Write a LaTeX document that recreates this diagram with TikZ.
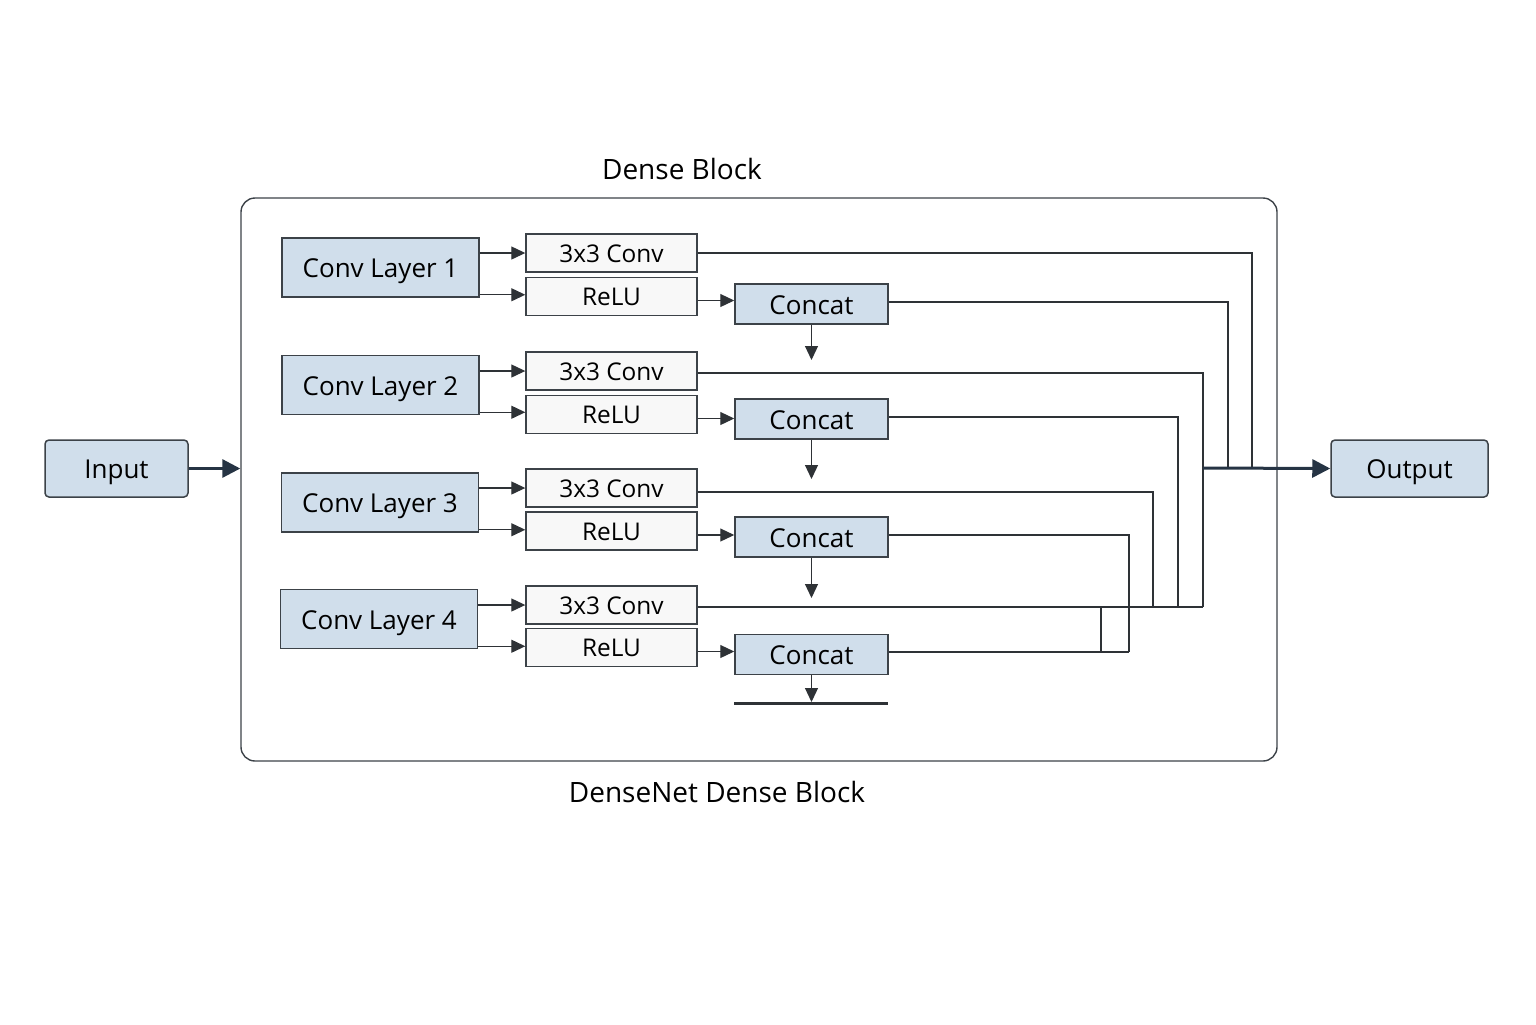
\documentclass[tikz,border=0pt]{standalone}
\usepackage{fontspec}
\setmainfont{Open Sans}
\usetikzlibrary{arrows.meta,calc}
\definecolor{boxblue}{HTML}{D0DEEB}
\definecolor{boxline}{HTML}{3C4248}
\definecolor{boxwhite}{HTML}{F8F8F8}
\definecolor{wire}{HTML}{2E3236}
\definecolor{thickarr}{HTML}{263444}
\begin{document}
\begin{tikzpicture}[x=0.5pt,y=-0.5pt,
  bluebox/.style={draw=boxline, fill=boxblue, line width=0.75pt, inner sep=0pt, text height=1em, text depth=0em, font=\fontsize{13}{15}\selectfont},
  layerbox/.style={bluebox, minimum width=98.5pt, minimum height=29.5pt},
  catbox/.style={bluebox, minimum width=76.5pt, minimum height=20pt},
  iobox/.style={bluebox, rounded corners=2pt, minimum height=28.5pt},
  opbox/.style={draw=boxline, fill=boxwhite, line width=0.7pt, inner sep=0pt, minimum width=85.5pt, minimum height=19pt, text height=0.9em, text depth=0em, font=\fontsize{12.2}{14}\selectfont},
  wireline/.style={draw=wire, line width=0.6pt},
  arr/.style={wireline, -{Triangle[length=7pt,width=6.5pt]}},
  bigarr/.style={draw=thickarr, line width=1.5pt, -{Triangle[length=9pt,width=9pt]}},
  title/.style={font=\fontsize{14}{16}\selectfont, inner sep=0pt}
]
\useasboundingbox (0,0) rectangle (1536,1024);

% dense block frame
\node[draw=boxline, line width=0.7pt, rounded corners=7pt, minimum width=518pt, minimum height=281.5pt, inner sep=0pt] (blk) at (759,479.5) {};
\node[title] (t1) at (682,169) {Dense Block};
\node[title] (t2) at (717,792) {DenseNet Dense Block};

% input / output
\node[iobox, minimum width=71.5pt] (in) at (116.5,468.5) {Input};
\node[iobox, minimum width=78.5pt] (out) at (1409.5,468.5) {Output};

% conv layers
\node[layerbox] (cl1) at (380.5,267.5) {Conv Layer 1};
\node[layerbox] (cl2) at (380.5,385) {Conv Layer 2};
\node[layerbox] (cl3) at (380,502.5) {Conv Layer 3};
\node[layerbox] (cl4) at (379,619) {Conv Layer 4};

% 3x3 conv / relu
\node[opbox] (c1) at (611.5,253) {3x3 Conv};
\node[opbox] (r1) at (611.5,296.5) {ReLU};
\node[opbox] (c2) at (611.5,371) {3x3 Conv};
\node[opbox] (r2) at (611.5,414.5) {ReLU};
\node[opbox] (c3) at (611.5,488) {3x3 Conv};
\node[opbox] (r3) at (611.5,531) {ReLU};
\node[opbox] (c4) at (611.5,605) {3x3 Conv};
\node[opbox] (r4) at (611.5,647.5) {ReLU};

% concat
\node[catbox] (k1) at (811.5,304) {Concat};
\node[catbox] (k2) at (811.5,419) {Concat};
\node[catbox] (k3) at (811.5,537) {Concat};
\node[catbox] (k4) at (811.5,654.5) {Concat};

% layer -> ops
\foreach \i in {1,2,3,4}{
  \draw[arr] (cl\i.east |- c\i.west) -- (c\i.west);
  \draw[arr] ([yshift=1.5pt]cl\i.south east) -- ([yshift=1.5pt]cl\i.south east -| r\i.west);
  \draw[arr] ([yshift=-2pt]r\i.east) -- ([yshift=-2pt]r\i.east -| k\i.west);
}

% concat down arrows
\coordinate (d1) at (811.5,360);
\coordinate (d2) at (811.5,479);
\coordinate (d3) at (811.5,598);
\coordinate (d4) at (811.5,702);
\foreach \i in {1,2,3,4}{ \draw[arr] (k\i.south) -- (d\i); }
\coordinate (barl) at (734,703);
\coordinate (barr) at (888,703);
\draw[draw=wire, line width=1.5pt] (barl) -- (barr);

% right-side wiring
\coordinate (j1) at (1252,468);
\coordinate (j2) at (1228,468);
\coordinate (j3) at (1203,607);
\coordinate (j4) at (1178,607);
\coordinate (j5) at (1153,607);
\coordinate (j6) at (1129,652);
\coordinate (j7) at (1101,607);
\coordinate (j8) at (1101,652);
\coordinate (jo) at (1203,468);

\draw[wireline] (c1.east) -| (j1);
\draw[wireline] ([yshift=1pt]k1.east) -| (j2);
\draw[wireline] ([yshift=-1pt]c2.east) -| (j3);
\draw[wireline] ([yshift=1pt]k2.east) -| (j4);
\draw[wireline] ([yshift=-2pt]c3.east) -| (j5);
\draw[wireline] ([yshift=1pt]k3.east) -| (j6);
\draw[wireline] ([yshift=-1pt]c4.east) -- (j3);
\draw[wireline] ([yshift=1.25pt]k4.east) -- (j6);
\draw[wireline] (j7) -- (j8);

% thick arrows
\draw[bigarr] (in.east) -- (in.east -| blk.west);
\draw[bigarr] (jo) -- (out.west);
\end{tikzpicture}
\end{document}
